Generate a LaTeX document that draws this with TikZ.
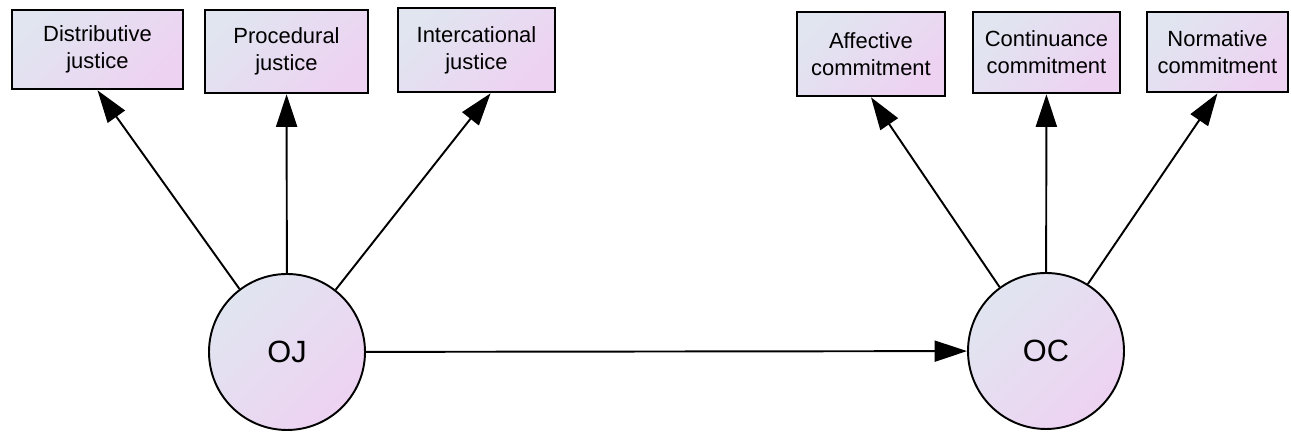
\documentclass[tikz,border=0pt]{standalone}
\usepackage{fontspec}
\setmainfont{Liberation Sans}
\usetikzlibrary{arrows.meta}
\definecolor{shadeblue}{RGB}{224,229,240}
\definecolor{shadepink}{RGB}{238,210,242}
\begin{document}
\begin{tikzpicture}[
        font=\fontsize{12.5}{15.5}\selectfont
    ]
    \tikzset{
        obsnode/.style = {rectangle, draw=black, line width=1.5pt, align=center,
            inner sep=0pt, top color=shadeblue, bottom color=shadepink, shading angle=45},
        latnode/.style = {circle, draw=black, line width=1.1pt, inner sep=0pt,
            minimum size=3.12cm, font=\fontsize{17.5}{20}\selectfont,
            top color=shadeblue, bottom color=shadepink, shading angle=45},
        edgea/.style = {-{Triangle[length=6.5mm,width=4.2mm]}, line width=1.1pt, black},
    }
    \useasboundingbox (0,0) rectangle (25.82,8.64);
    \node[obsnode, minimum width=3.42cm, minimum height=1.58cm] at (1.95,7.65) (dj) {Distributive\\justice};
    \node[obsnode, minimum width=3.26cm, minimum height=1.66cm] at (5.73,7.61) (pj) {Procedural\\justice};
    \node[obsnode, minimum width=3.14cm, minimum height=1.68cm] at (9.53,7.64) (ij) {Intercational\\justice};
    \node[obsnode, minimum width=2.96cm, minimum height=1.68cm] at (17.42,7.56) (ac) {Affective\\commitment};
    \node[obsnode, minimum width=2.94cm, minimum height=1.62cm] at (20.93,7.59) (cc) {Continuance\\commitment};
    \node[obsnode, minimum width=2.82cm, minimum height=1.60cm] at (24.35,7.60) (nc) {Normative\\commitment};
    \node[latnode] at (5.74,1.60) (oj) {OJ};
    \node[latnode] at (20.92,1.62) (oc) {OC};
    %
    \draw[edgea] (oj.127) -- (dj.south);
    \draw[edgea] (oj) -- (pj);
    \draw[edgea] (oj.52) -- (ij.-72);
    %
    \draw[edgea] (oc.126) -- (ac.south);
    \draw[edgea] (oc) -- (cc);
    \draw[edgea] (oc.58) -- (nc.south);
    %
    \draw[edgea] (oj) -- (oc);
\end{tikzpicture}
\end{document}
